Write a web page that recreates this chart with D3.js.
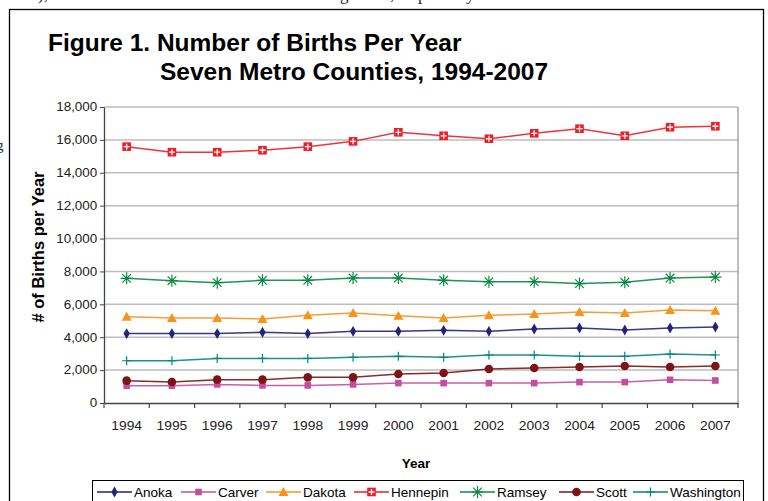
<!DOCTYPE html>
<html><head><meta charset="utf-8">
<script src="https://cdn.jsdelivr.net/npm/d3@7"></script>
<style>body{margin:0;background:#fff;}svg{display:block;}</style>
</head><body>
<svg id="c" width="768" height="501"></svg>
<script>
const years = ["1994","1995","1996","1997","1998","1999","2000","2001","2002","2003","2004","2005","2006","2007"];
const yTicks = [0,2000,4000,6000,8000,10000,12000,14000,16000,18000];
const anoka      = [4220,4220,4220,4300,4220,4360,4360,4420,4360,4500,4560,4440,4560,4620];
const carver     = [1050,1050,1130,1070,1070,1130,1210,1210,1210,1210,1270,1270,1410,1370];
const dakota     = [5250,5170,5170,5110,5330,5470,5310,5170,5330,5410,5530,5470,5650,5610];
const hennepin   = [15590,15250,15250,15370,15590,15910,16460,16250,16070,16400,16680,16250,16770,16830];
const ramsey     = [7580,7440,7320,7460,7460,7600,7600,7460,7380,7380,7260,7340,7600,7660];
const scott      = [1360,1280,1420,1420,1560,1560,1760,1820,2070,2130,2190,2250,2190,2250];
const washington = [2570,2570,2710,2710,2710,2780,2840,2780,2920,2920,2840,2840,2980,2920];
const seriesNames = ["Anoka","Carver","Dakota","Hennepin","Ramsey","Scott","Washington"];
const seriesValues = [anoka,carver,dakota,hennepin,ramsey,scott,washington];

const styles = {
  Anoka:{color:"#232377",marker:"diamond"},
  Carver:{color:"#c04fa0",marker:"square"},
  Dakota:{color:"#f7941e",marker:"triangle"},
  Hennepin:{color:"#ee1c25",marker:"redplus"},
  Ramsey:{color:"#0b8a43",marker:"asterisk"},
  Scott:{color:"#7c1417",marker:"circle"},
  Washington:{color:"#048585",marker:"plus"}
};

const svg = d3.select("#c");
const font = "'Liberation Sans', Arial, sans-serif";

// cut-off text from page above
const topFrag = [[38,"),"],[340,"g"],[390,","],[418,"p"],[466,"y"]];
svg.selectAll("text.frag").data(topFrag).join("text")
  .attr("x",d=>d[0]).attr("y",0).attr("font-family","'Liberation Serif', serif")
  .attr("font-size",17).attr("fill","#222").text(d=>d[1]);
svg.append("text").attr("x",-4).attr("y",150).attr("font-family","'Liberation Serif', serif")
  .attr("font-size",15).attr("fill","#222").text("g");

// frame
svg.append("rect").attr("x",9.5).attr("y",9.5).attr("width",754).attr("height",520)
  .attr("fill","none").attr("stroke","#000").attr("stroke-width",1.3);

// titles
svg.append("text").attr("x",48).attr("y",51).attr("font-family",font).attr("font-weight","bold")
  .attr("font-size",24.5).attr("fill","#000").text("Figure 1. Number of Births Per Year");
svg.append("text").attr("x",160).attr("y",80).attr("font-family",font).attr("font-weight","bold")
  .attr("font-size",24.5).attr("fill","#000").text("Seven Metro Counties, 1994-2007");

const pL=104, pR=738, pT=107, pB=403;
const x = d3.scaleBand().domain(years).range([pL,pR]).padding(0);
const y = d3.scaleLinear().domain([0,18000]).range([pB,pT]);

// gridlines
svg.append("g").selectAll("line").data(yTicks.filter(t=>t>0)).join("line")
  .attr("x1",pL).attr("x2",pR).attr("y1",d=>y(d)).attr("y2",d=>y(d))
  .attr("stroke","#bdbdbd").attr("stroke-width",1.5);
// right border
svg.append("line").attr("x1",pR).attr("x2",pR).attr("y1",pT).attr("y2",pB)
  .attr("stroke","#999").attr("stroke-width",1.3);

// y axis
const ya = svg.append("g").attr("transform",`translate(${pL},0)`)
  .call(d3.axisLeft(y).tickValues(yTicks).tickSize(4).tickSizeOuter(0).tickPadding(2).tickFormat(d3.format(",")));
ya.select(".domain").attr("stroke","#444").attr("stroke-width",1.3);
ya.selectAll(".tick line").attr("stroke","#444");
ya.selectAll("text").attr("font-family",font).attr("font-size",12).attr("fill","#222")
  .attr("transform","scale(1.12,1)");

// x axis
const xa = svg.append("g").attr("transform",`translate(0,${pB})`)
  .call(d3.axisBottom(x).tickSize(0).tickPadding(18));
xa.select(".domain").attr("stroke","#444").attr("stroke-width",1.3);
xa.selectAll("text").attr("font-family",font).attr("font-size",12).attr("fill","#222")
  .attr("transform","scale(1.15,1)");
const bounds = years.map(yr=>x(yr)).concat([pR]);
svg.append("g").selectAll("line").data(bounds).join("line")
  .attr("x1",d=>d).attr("x2",d=>d).attr("y1",pB).attr("y2",pB+5)
  .attr("stroke","#444").attr("stroke-width",1.2);

// axis titles
svg.append("text").attr("transform",`translate(43.5,247) rotate(-90)`).attr("text-anchor","middle")
  .attr("font-family",font).attr("font-weight","bold").attr("font-size",16.5).attr("fill","#000")
  .text("# of Births per Year");
svg.append("text").attr("x",416).attr("y",468).attr("text-anchor","middle")
  .attr("font-family",font).attr("font-weight","bold").attr("font-size",13.5).attr("fill","#000")
  .text("Year");

function drawMarker(g, type, color){
  if(type==="diamond"){
    g.append("path").attr("d",d3.symbol(d3.symbolDiamond,34)()).attr("fill",color);
  } else if(type==="square"){
    g.append("rect").attr("x",-3.3).attr("y",-3.3).attr("width",6.6).attr("height",6.6).attr("fill",color);
  } else if(type==="triangle"){
    g.append("path").attr("d","M0,-5L5,4L-5,4Z").attr("fill",color);
  } else if(type==="redplus"){
    g.append("rect").attr("x",-4.3).attr("y",-4.3).attr("width",8.6).attr("height",8.6).attr("fill",color);
    g.append("path").attr("d","M-3,0H3M0,-3V3").attr("stroke","#fff").attr("stroke-width",1.3);
  } else if(type==="asterisk"){
    g.append("path").attr("d","M-6,0H6M0,-6V6M-4.3,-4.3L4.3,4.3M-4.3,4.3L4.3,-4.3")
      .attr("stroke",color).attr("stroke-width",1.2);
  } else if(type==="circle"){
    g.append("circle").attr("r",4.3).attr("fill",color);
  } else if(type==="plus"){
    g.append("path").attr("d","M-4.5,0H4.5M0,-4.5V4.5").attr("stroke",color).attr("stroke-width",1.2);
  }
}

const line = d3.line().x((d,i)=>x(years[i])+x.bandwidth()/2).y(d=>y(d));
const order = [1,5,6,0,2,4,3];
order.forEach(si=>{
  const name = seriesNames[si], vals = seriesValues[si], st = styles[name];
  svg.append("path").datum(vals).attr("d",line).attr("fill","none")
    .attr("stroke",st.color).attr("stroke-width",1.5).attr("stroke-opacity",0.9);
  vals.forEach((v,i)=>{
    const g = svg.append("g").attr("transform",`translate(${x(years[i])+x.bandwidth()/2},${y(v)})`);
    drawMarker(g, st.marker, st.color);
  });
});

// legend
svg.append("rect").attr("x",92.5).attr("y",480.5).attr("width",651).attr("height",30)
  .attr("fill","#fff").attr("stroke","#000").attr("stroke-width",1);
const legX = [97,181,266,354,460,559,633];
seriesNames.forEach((name,i)=>{
  const st = styles[name];
  const g = svg.append("g");
  g.append("line").attr("x1",legX[i]).attr("x2",legX[i]+35).attr("y1",492).attr("y2",492)
    .attr("stroke",st.color).attr("stroke-width",1.5);
  const m = g.append("g").attr("transform",`translate(${legX[i]+17.5},492)`);
  drawMarker(m, st.marker, st.color);
  g.append("text").attr("x",legX[i]+37).attr("y",497).attr("font-family",font)
    .attr("font-size",13.5).attr("fill","#000").text(name);
});
</script>
</body></html>
